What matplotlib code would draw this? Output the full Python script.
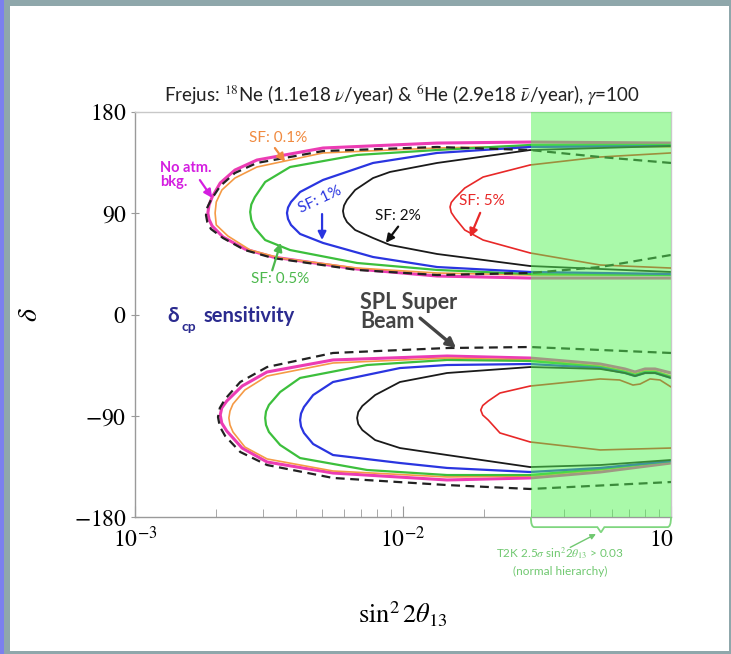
import matplotlib.pyplot as plt
from matplotlib.patches import Rectangle, PathPatch
from matplotlib.path import Path

plt.rcParams['mathtext.fontset'] = 'stix'
plt.rcParams['font.family'] = ['Lato', 'DejaVu Sans']

# T2K hint region
t2k_min = 0.03
t2k_max = 0.1

# ---- upper band (delta > 0): each curve runs upper branch -> nose -> lower branch
up_noatm_x = [0.1, 0.0298, 0.0134, 5.03e-3, 2.85e-3, 2.36e-3, 2.08e-3, 1.94e-3, 1.889e-3, 1.87e-3,
              1.889e-3, 1.94e-3, 2.13e-3, 2.57e-3, 3.27e-3, 6.74e-3, 0.0134, 0.0298, 0.1]
up_noatm_d = [152.4, 153.3, 152.4, 148.0, 137.3, 128.4, 116.9, 104.4, 97.3, 90.2,
              84.5, 78.7, 68.9, 58.2, 51.1, 40.4, 34.2, 32.4, 32.4]

up_spl_x = [0.1, 0.0544, 0.0298, 0.0134, 5.03e-3, 2.85e-3, 2.36e-3, 2.08e-3, 1.92e-3, 1.861e-3,
            1.84e-3, 1.861e-3, 1.92e-3, 2.13e-3, 2.57e-3, 3.27e-3, 6.74e-3, 0.0134, 0.0298,
            0.0544, 0.1]
up_spl_d = [134.7, 140.0, 146.2, 148.9, 145.3, 134.7, 125.8, 114.2, 101.8, 95.1,
            88.4, 82.2, 76.0, 68.0, 57.3, 50.2, 39.6, 35.1, 36.9,
            42.2, 52.9]

up_sf01_x = [0.1, 0.0298, 0.0134, 5.03e-3, 2.85e-3, 2.36e-3, 2.11e-3, 2.01e-3, 1.99e-3,
             2.01e-3, 2.22e-3, 2.69e-3, 3.48e-3, 6.74e-3, 0.0134, 0.0298, 0.1]
up_sf01_d = [148.9, 149.8, 148.0, 143.6, 131.1, 121.3, 110.7, 100.0, 90.2,
             79.6, 69.8, 57.3, 50.2, 41.3, 36.9, 35.1, 35.1]

up_sf05_x = [0.1, 0.0298, 0.0134, 6.74e-3, 3.79e-3, 3.06e-3, 2.80e-3, 2.716e-3, 2.69e-3,
             2.716e-3, 2.80e-3, 3.06e-3, 3.79e-3, 6.74e-3, 0.0134, 0.0298, 0.1]
up_sf05_d = [150.7, 150.7, 146.2, 141.8, 131.1, 117.8, 104.4, 97.8, 91.1,
             84.0, 76.9, 66.2, 57.3, 45.8, 39.6, 36.0, 35.1]

up_sf1_x = [0.1, 0.0298, 0.0134, 7.73e-3, 5.03e-3, 4.13e-3, 3.82e-3, 3.724e-3, 3.69e-3,
            3.724e-3, 3.82e-3, 4.13e-3, 5.03e-3, 7.73e-3, 0.0134, 0.0298, 0.1]
up_sf1_d = [149.8, 148.9, 143.6, 134.7, 119.6, 108.9, 100.0, 95.1, 90.2,
            84.9, 79.6, 71.6, 63.6, 51.1, 42.2, 37.8, 36.0]

up_sf2_x = [0.1, 0.0298, 0.0134, 8.94e-3, 7.73e-3, 6.63e-3, 6.18e-3, 6.025e-3, 5.97e-3,
            6.025e-3, 6.18e-3, 6.63e-3, 7.73e-3, 8.94e-3, 0.0134, 0.0298, 0.1]
up_sf2_d = [149.8, 146.2, 134.7, 126.7, 121.3, 110.7, 101.8, 96.9, 92.0,
            87.1, 82.2, 75.1, 68.0, 61.8, 53.8, 43.1, 37.8]

up_sf5_x = [0.1, 0.0544, 0.0298, 0.0199, 0.0170, 0.01563, 0.01514, 0.01498,
            0.01514, 0.01563, 0.0170, 0.0199, 0.0298, 0.0544, 0.1]
up_sf5_d = [143.6, 140.0, 132.9, 122.2, 112.4, 103.6, 99.6, 95.6,
            90.7, 85.8, 75.1, 66.2, 54.7, 44.0, 41.3]

# ---- lower band (delta < 0)
lo_spl_x = [0.1, 0.0298, 0.0146, 5.48e-3, 3.11e-3, 2.47e-3, 2.17e-3, 2.072e-3, 2.04e-3,
            2.072e-3, 2.17e-3, 2.47e-3, 3.11e-3, 5.48e-3, 0.0146, 0.0298, 0.1]
lo_spl_d = [-34.2, -28.9, -29.8, -34.2, -46.7, -60.0, -75.1, -83.1, -91.1,
            -99.6, -108.0, -122.2, -133.8, -145.3, -151.6, -155.1, -148.9]

lo_noatm_x = [0.1, 0.0872, 0.080, 0.0734, 0.0673, 0.0544, 0.0298, 0.0146, 5.48e-3, 3.11e-3,
              2.51e-3, 2.20e-3, 2.107e-3, 2.08e-3, 2.107e-3, 2.20e-3, 2.51e-3, 3.11e-3,
              5.48e-3, 0.0146, 0.0298, 0.0544, 0.1]
lo_noatm_d = [-52.0, -48.4, -48.4, -51.1, -48.4, -44.0, -38.7, -36.9, -40.4, -51.1,
              -63.6, -76.9, -83.1, -89.3, -96.5, -103.6, -118.7, -131.1,
              -140.9, -147.1, -145.3, -140.0, -132.0]

lo_sf01_x = [0.1, 0.0872, 0.080, 0.0734, 0.0673, 0.0544, 0.0298, 0.0146, 5.48e-3, 3.11e-3,
             2.57e-3, 2.32e-3, 2.262e-3, 2.24e-3, 2.262e-3, 2.32e-3, 2.57e-3, 3.11e-3,
             5.48e-3, 0.0146, 0.0298, 0.0544, 0.1]
lo_sf01_d = [-54.7, -50.2, -50.2, -52.9, -50.2, -45.8, -40.4, -38.7, -43.1, -54.7,
             -67.1, -79.6, -85.8, -92.0, -98.2, -104.4, -117.8, -128.4,
             -139.1, -144.4, -143.6, -138.2, -130.2]

lo_sf05_x = [0.1, 0.0872, 0.080, 0.0734, 0.0673, 0.0544, 0.0298, 0.0146, 7.34e-3, 4.13e-3,
             3.48e-3, 3.16e-3, 3.082e-3, 3.06e-3, 3.082e-3, 3.16e-3, 3.48e-3, 4.13e-3,
             7.34e-3, 0.0146, 0.0298, 0.0544, 0.1]
lo_sf05_d = [-55.6, -51.1, -51.1, -53.8, -51.1, -46.7, -41.3, -40.4, -44.9, -56.4,
             -68.9, -80.4, -86.2, -92.0, -98.2, -104.4, -116.0, -127.6,
             -138.2, -142.7, -142.7, -137.3, -130.2]

lo_sf1_x = [0.1, 0.0872, 0.080, 0.0734, 0.0673, 0.0544, 0.0298, 0.0146, 9.74e-3, 5.48e-3,
            4.62e-3, 4.27e-3, 4.164e-3, 4.13e-3, 4.164e-3, 4.27e-3, 4.62e-3, 5.48e-3,
            9.74e-3, 0.0146, 0.0298, 0.0544, 0.1]
lo_sf1_d = [-56.4, -52.0, -52.0, -54.7, -52.0, -47.6, -44.0, -44.9, -47.6, -60.0,
            -71.6, -82.2, -88.0, -93.8, -99.6, -105.3, -115.1, -124.9,
            -132.0, -136.4, -140.0, -136.4, -130.2]

lo_sf2_x = [0.1, 0.0872, 0.080, 0.0734, 0.0673, 0.0544, 0.0298, 0.0146, 9.74e-3, 7.87e-3,
            7.05e-3, 6.808e-3, 6.74e-3, 6.808e-3, 7.05e-3, 7.87e-3, 9.74e-3, 0.0146, 0.0298,
            0.0544, 0.1]
lo_sf2_d = [-56.4, -52.0, -52.0, -54.7, -52.0, -48.4, -46.7, -52.0, -60.0, -71.6,
            -81.3, -86.7, -92.0, -97.4, -102.7, -111.6, -118.7, -124.9, -135.6,
            -133.8, -129.3]

lo_sf5_x = [0.1, 0.0910, 0.0835, 0.0767, 0.0721, 0.0643, 0.0544, 0.0298, 0.0230, 0.0208,
            0.01984, 0.0195, 0.01984, 0.0208, 0.0230, 0.0298, 0.0544, 0.1]
lo_sf5_d = [-64.4, -58.2, -57.3, -61.8, -62.7, -58.2, -57.3, -63.6, -69.8, -76.9,
            -80.9, -84.9, -89.4, -93.8, -105.3, -113.3, -120.4, -118.7]

W, H = 731, 654
fig = plt.figure(figsize=(W / 100, H / 100), dpi=100)
fig.patch.set_facecolor('#8fa7ab')
fig.add_artist(Rectangle((10 / W, 3 / H), 719 / W, 645 / H, transform=fig.transFigure,
                         facecolor='white', edgecolor='none', zorder=-2))
fig.add_artist(Rectangle((0, 0), 4 / W, 1, transform=fig.transFigure,
                         facecolor='#7b80ee', edgecolor='none', zorder=-1))

ax = fig.add_axes([135 / W, 137 / H, 536 / W, 405 / H])
ax.set_xscale('log')

# curves
curve_kw = dict(solid_joinstyle='round', solid_capstyle='round')
ax.plot(up_noatm_x, up_noatm_d, color='#ec3cb4', lw=2.2, zorder=2, **curve_kw)
ax.plot(lo_noatm_x, lo_noatm_d, color='#ec3cb4', lw=2.2, zorder=2, **curve_kw)
ax.plot(up_sf01_x, up_sf01_d, color='#f59a45', lw=1.2, zorder=2.2, **curve_kw)
ax.plot(lo_sf01_x, lo_sf01_d, color='#f59a45', lw=1.2, zorder=2.2, **curve_kw)
ax.plot(up_sf05_x, up_sf05_d, color='#3cbf3c', lw=1.6, zorder=2.3, **curve_kw)
ax.plot(lo_sf05_x, lo_sf05_d, color='#3cbf3c', lw=1.6, zorder=2.3, **curve_kw)
ax.plot(up_sf1_x, up_sf1_d, color='#2a35e0', lw=1.6, zorder=2.4, **curve_kw)
ax.plot(lo_sf1_x, lo_sf1_d, color='#2a35e0', lw=1.6, zorder=2.4, **curve_kw)
ax.plot(up_sf2_x, up_sf2_d, color='#1a1a1a', lw=1.3, zorder=2.5, **curve_kw)
ax.plot(lo_sf2_x, lo_sf2_d, color='#1a1a1a', lw=1.3, zorder=2.5, **curve_kw)
ax.plot(up_sf5_x, up_sf5_d, color='#e82828', lw=1.2, zorder=2.6, **curve_kw)
ax.plot(lo_sf5_x, lo_sf5_d, color='#e82828', lw=1.2, zorder=2.6, **curve_kw)
ax.plot(up_spl_x, up_spl_d, color='#222222', lw=1.6, ls=(0, (4, 2.5)), zorder=3)
ax.plot(lo_spl_x, lo_spl_d, color='#222222', lw=1.6, ls=(0, (4, 2.5)), zorder=3)

# T2K shaded band on top
ax.axvspan(t2k_min, t2k_max, color=(0.33, 0.96, 0.33), alpha=0.5, lw=0, zorder=5)

ax.set_xlim(1e-3, 0.1)
ax.set_ylim(-180, 180)
for s in ax.spines.values():
    s.set_color('#9a9a9a')
    s.set_linewidth(1.0)
ax.spines['top'].set_color('#c8c8c8')
ax.spines['right'].set_color('#c8c8c8')

ax.set_xticks([1e-3, 1e-2, 1e-1])
ax.set_xticklabels([r'$10^{-3}$', r'$10^{-2}$', r'$10^{-1}$'], fontsize=17)
ax.set_yticks([-180, -90, 0, 90, 180])
ax.set_yticklabels([r'$-180$', r'$-90$', r'$0$', r'$90$', r'$180$'], fontsize=17)
ax.tick_params(axis='x', which='major', direction='in', length=8, color='#9a9a9a', pad=6)
ax.tick_params(axis='x', which='minor', direction='in', length=6, color='#9a9a9a')
ax.tick_params(axis='y', which='major', direction='inout', length=6, color='#9a9a9a', pad=3)
ax.tick_params(axis='y', which='minor', left=False)

ax.set_xlabel(r'$\sin^2 2\theta_{13}$', fontsize=19)
ax.xaxis.set_label_coords(0.5, -0.205)
ax.set_ylabel(r'$\delta$', fontsize=20)
ax.yaxis.set_label_coords(-0.173, 0.5)

fig.text(402 / W, 1 - 95 / H,
         r'Frejus: $^{18}$Ne (1.1e18 $\nu$/year) & $^{6}$He (2.9e18 $\bar{\nu}$/year), $\gamma$=100',
         ha='center', va='center', fontsize=13.5, color='#222222')


def label(x, y, txt, color, size=11, **kw):
    ax.text(x, y, txt, color=color, fontsize=size, transform=ax.transAxes,
            va='center', zorder=6, **kw)


def arrow(tail, head, color, lw=1.6, ms=12):
    ax.annotate('', xy=head, xytext=tail, xycoords='axes fraction',
                arrowprops=dict(arrowstyle='-|>', color=color, lw=lw, mutation_scale=ms,
                                shrinkA=0, shrinkB=0), annotation_clip=False, zorder=6)


label(0.267, 0.936, 'SF: 0.1%', '#f08a40', ha='center')
arrow((0.261, 0.911), (0.280, 0.877), '#f08a40')
label(0.047, 0.845, 'No atm.\nbkg.', '#d41ee0', size=10.5, ha='left', linespacing=0.95,
      weight='bold')
arrow((0.121, 0.832), (0.144, 0.788), '#d41ee0')
label(0.345, 0.783, 'SF: 1%', '#2a35e0', ha='center', rotation=25)
arrow((0.349, 0.748), (0.349, 0.684), '#2a35e0')
label(0.491, 0.743, 'SF: 2%', '#111111', ha='center')
arrow((0.491, 0.717), (0.468, 0.677), '#111111')
label(0.271, 0.588, 'SF: 0.5%', '#4cb84c', ha='center')
arrow((0.256, 0.609), (0.272, 0.677), '#4cb84c')
label(0.647, 0.780, 'SF: 5%', '#e82828', ha='center')
arrow((0.644, 0.751), (0.625, 0.691), '#e82828')

label(0.060, 0.496, 'δ', '#2b2b8f', size=15, weight='bold', ha='left')
label(0.087, 0.470, 'cp', '#2b2b8f', size=10, weight='bold', ha='left')
label(0.127, 0.496, 'sensitivity', '#2b2b8f', size=14.5, weight='bold', ha='left')

label(0.42, 0.506, 'SPL Super\nBeam', '#444444', size=15.5, weight='bold', ha='left',
      linespacing=0.9)
arrow((0.532, 0.491), (0.599, 0.417), '#444444', lw=2.4, ms=14)

# T2K brace and label under the axis
tr = ax.get_xaxis_transform()
mid = (t2k_min * t2k_max) ** 0.5
brace = Path([(t2k_min, 0.0), (t2k_min, -0.025), (t2k_min * 1.03, -0.025),
              (mid * 0.97, -0.025), (mid, -0.038), (mid * 1.03, -0.025),
              (t2k_max * 0.97, -0.025), (t2k_max, -0.025), (t2k_max, 0.0)],
             [Path.MOVETO, Path.CURVE3, Path.CURVE3, Path.LINETO, Path.LINETO,
              Path.LINETO, Path.LINETO, Path.CURVE3, Path.CURVE3])
ax.add_patch(PathPatch(brace, transform=tr, facecolor='none', edgecolor='#7fd67f',
                       lw=1.3, clip_on=False, zorder=6))
label(0.793, -0.088, r'T2K 2.5$\sigma$ sin$^2$2$\theta_{13}$ > 0.03', '#70c870', size=8.5,
      ha='center', clip_on=False)
label(0.793, -0.135, '(normal hierarchy)', '#70c870', size=8.5, ha='center', clip_on=False)
arrow((0.812, -0.075), (0.860, -0.042), '#70c870', lw=1.0, ms=8)

# original slide crops the last tick label
fig.add_artist(Rectangle((675 / W, (H - 570) / H), 54 / W, 45 / H, transform=fig.transFigure,
                         facecolor='white', edgecolor='none', zorder=10))

fig.savefig('out.png', dpi=100)
